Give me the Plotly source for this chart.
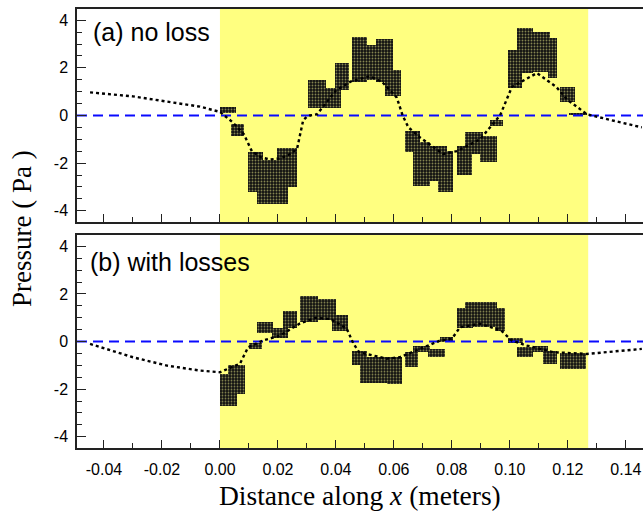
import plotly.graph_objects as go

# ---------------- data ----------------
# Panel (a): no loss - smooth pressure curve
a_curve_x = [-0.0448, -0.030, -0.016, -0.0069, 0.0, 0.0045, 0.0083, 0.0110, 0.0140, 0.0172,
             0.021, 0.0245, 0.0266, 0.0287, 0.030, 0.031, 0.0335, 0.036, 0.040, 0.045,
             0.0517, 0.056, 0.061, 0.063, 0.065, 0.069, 0.0769, 0.0817, 0.0897, 0.0966,
             0.099, 0.1007, 0.1093, 0.116, 0.1197, 0.1266, 0.135, 0.1455]
a_curve_y = [0.97, 0.80, 0.54, 0.37, 0.15, -0.3, -0.8, -1.5, -1.75, -1.85,
             -1.8, -1.6, -1.4, -0.2, -0.05, 0.0, 0.05, 0.45, 1.05, 1.42,
             1.65, 1.4, 0.75, 0.0, -0.5, -0.92, -1.62, -1.5, -1.0, 0.0,
             0.67, 1.2, 1.78, 1.2, 0.67, 0.05, -0.2, -0.5]

# Panel (a): dense scatter blocks (x start, x end, y low, y high)
a_blk_x0 = [0.000, 0.0038, 0.0097, 0.0128, 0.0197, 0.0303, 0.0366, 0.0397, 0.0455, 0.0507,
            0.0538, 0.0569, 0.0638, 0.0666, 0.0690, 0.0752, 0.0817, 0.0845, 0.0897, 0.0931,
            0.0993, 0.1024, 0.1079, 0.1131, 0.1172, 0.1203]
a_blk_x1 = [0.0055, 0.0083, 0.0148, 0.0234, 0.0266, 0.0366, 0.0417, 0.0445, 0.0507, 0.0541,
            0.0597, 0.0624, 0.0690, 0.0724, 0.0783, 0.0803, 0.0869, 0.0907, 0.0955, 0.0976,
            0.1041, 0.1079, 0.1138, 0.1162, 0.1224, 0.1266]
a_blk_lo = [0.12, -0.87, -3.2, -3.7, -3.0, 0.33, 0.33, 1.08, 1.42, 1.5,
            1.42, 0.8, -1.55, -2.95, -2.75, -3.2, -2.5, -1.6, -1.96, -0.46,
            1.17, 1.78, 1.83, 1.58, 0.58, 0.0]
a_blk_hi = [0.37, -0.37, -1.55, -1.85, -1.35, 1.5, 1.17, 2.2, 3.3, 2.96,
            3.2, 1.9, -0.67, -1.1, -1.3, -1.5, -1.3, -0.7, -0.87, -0.17,
            2.75, 3.67, 3.5, 3.25, 1.2, 0.12]

# Panel (b): with losses
b_curve_x = [-0.0448, -0.030, -0.0183, -0.0069, 0.0, 0.0069, 0.0097, 0.0148, 0.0207, 0.0276,
             0.033, 0.038, 0.0437, 0.046, 0.048, 0.0575, 0.062, 0.069, 0.0759, 0.080,
             0.0828, 0.0897, 0.097, 0.1007, 0.1059, 0.115, 0.1266, 0.1455]
b_curve_y = [-0.1, -0.66, -1.01, -1.22, -1.29, -0.93, -0.24, 0.04, 0.25, 0.76,
             1.0, 0.95, 0.55, -0.08, -0.45, -0.72, -0.66, -0.3, 0.04, 0.12,
             0.6, 0.75, 0.46, 0.04, -0.17, -0.45, -0.52, -0.31]

b_blk_x0 = [0.000, 0.0028, 0.0100, 0.0128, 0.0179, 0.0217, 0.0276, 0.0338, 0.0386, 0.0455,
            0.0483, 0.0576, 0.0638, 0.0666, 0.0717, 0.0759, 0.0817, 0.0845, 0.0948, 0.0993,
            0.1024, 0.1079, 0.1114, 0.1172]
b_blk_x1 = [0.0059, 0.0086, 0.0145, 0.0183, 0.0234, 0.0266, 0.0338, 0.0400, 0.0441, 0.0507,
            0.0579, 0.0628, 0.0683, 0.0724, 0.0776, 0.0803, 0.0872, 0.0955, 0.0983, 0.1045,
            0.1079, 0.1131, 0.1162, 0.1262]
b_blk_lo = [-2.7, -2.2, -0.3, 0.34, 0.13, 0.55, 0.8, 0.9, 0.46, -1.0,
            -1.73, -1.77, -1.09, -0.46, -0.67, -0.04, 0.55, 0.6, 0.46, -0.08,
            -0.67, -0.46, -0.93, -1.14]
b_blk_hi = [-1.35, -1.0, -0.08, 0.8, 0.55, 1.3, 1.9, 1.8, 1.1, -0.38,
            -0.67, -0.67, -0.46, -0.2, -0.3, 0.17, 1.4, 1.65, 1.4, 0.13,
            -0.25, -0.17, -0.38, -0.5]

x_range = [-0.0493, 0.1459]
y_range = [-4.47, 4.47]
sample_start, sample_end = 0.0, 0.127
x_tickvals = [-0.04, -0.02, 0.00, 0.02, 0.04, 0.06, 0.08, 0.10, 0.12, 0.14]
x_ticktext = ["-0.04", "-0.02", "0.00", "0.02", "0.04", "0.06", "0.08", "0.10", "0.12", "0.14"]
y_tickvals = [-4, -2, 0, 2, 4]
y_ticktext = ["-4", "-2", "0", "2", "4"]

# ---------------- figure ----------------
fig = go.Figure()

def add_panel(xa, ya, cx, cy, x0, x1, lo, hi):
    # zero reference line
    fig.add_trace(go.Scatter(x=x_range, y=[0, 0], mode="lines", xaxis=xa, yaxis=ya,
                             line=dict(color="#0a0aff", width=2, dash="10px,6px"),
                             hoverinfo="skip"))
    # dense blocks
    fig.add_trace(go.Bar(
        x=[(a + b) / 2 for a, b in zip(x0, x1)],
        width=[b - a for a, b in zip(x0, x1)],
        base=lo, y=[h - l for l, h in zip(lo, hi)],
        xaxis=xa, yaxis=ya,
        marker=dict(color="#111111", line=dict(width=0),
                    pattern=dict(shape=".", fgcolor="#fafa90", bgcolor="#111111",
                                 size=3, solidity=0.3)),
        hoverinfo="skip"))
    # curve
    fig.add_trace(go.Scatter(x=cx, y=cy, mode="lines", xaxis=xa, yaxis=ya,
                             line=dict(color="black", width=2.4, dash="dot"),
                             hoverinfo="skip"))

add_panel("x2", "y2", a_curve_x, a_curve_y, a_blk_x0, a_blk_x1, a_blk_lo, a_blk_hi)
add_panel("x", "y", b_curve_x, b_curve_y, b_blk_x0, b_blk_x1, b_blk_lo, b_blk_hi)

for xr, yr in (("x", "y"), ("x2", "y2")):
    fig.add_shape(type="rect", xref=xr, yref=yr + " domain", x0=sample_start, x1=sample_end,
                  y0=0, y1=1, fillcolor="#FFFF80", line=dict(width=0), layer="below")

axis_common = dict(showgrid=False, zeroline=False, showline=True, linecolor="#222",
                   linewidth=1.5, ticks="inside", tickcolor="#222", tickwidth=1.2,
                   tickfont=dict(family="Liberation Sans, Arial", size=16, color="black"))

fig.update_layout(
    width=643, height=516,
    margin=dict(l=77, r=0, t=9, b=68),
    plot_bgcolor="white", paper_bgcolor="white",
    showlegend=False, barmode="overlay", bargap=0,
    xaxis=dict(**axis_common, domain=[0, 1], range=x_range, mirror=True,
               tickvals=x_tickvals, ticktext=x_ticktext, ticklen=8, ticklabelstandoff=6,
               minor=dict(ticks="inside", dtick=0.01, tick0=0, ticklen=5, tickcolor="#222")),
    xaxis2=dict(**axis_common, domain=[0, 1], range=x_range, mirror=True, anchor="y2",
                matches="x", tickvals=x_tickvals, showticklabels=False, ticklen=8,
                minor=dict(ticks="inside", dtick=0.01, tick0=0, ticklen=5, tickcolor="#222")),
    yaxis=dict(**axis_common, domain=[0, 0.485], range=y_range, tickvals=y_tickvals,
               ticktext=y_ticktext, ticklen=9, ticklabelstandoff=4,
               minor=dict(ticks="inside", dtick=0.5, tick0=0, ticklen=5, tickcolor="#222")),
    yaxis2=dict(**axis_common, domain=[0.515, 1], range=y_range, anchor="x2",
                tickvals=y_tickvals, ticktext=y_ticktext, ticklen=9, ticklabelstandoff=4,
                minor=dict(ticks="inside", dtick=0.5, tick0=0, ticklen=5, tickcolor="#222")),
)

fig.add_annotation(text="(a) no loss", xref="x2 domain", yref="y2 domain", x=0.024, y=0.894,
                   xanchor="left", yanchor="middle", showarrow=False,
                   font=dict(family="Liberation Sans, Arial", size=25, color="black"))
fig.add_annotation(text="(b) with losses", xref="x domain", yref="y domain", x=0.019, y=0.875,
                   xanchor="left", yanchor="middle", showarrow=False,
                   font=dict(family="Liberation Sans, Arial", size=25, color="black"))
fig.add_annotation(text="Distance along <i>x</i> (meters)", xref="paper", yref="paper",
                   x=0.5, y=-0.109, xanchor="center", yanchor="middle", showarrow=False,
                   font=dict(family="Liberation Serif, Times New Roman", size=27.5, color="black"))
fig.add_annotation(text="Pressure ( Pa )", xref="paper", yref="paper", textangle=-90,
                   x=-0.098, y=0.5, xanchor="center", yanchor="middle", showarrow=False,
                   font=dict(family="Liberation Serif, Times New Roman", size=27, color="black"))

fig.write_html("out.html")
